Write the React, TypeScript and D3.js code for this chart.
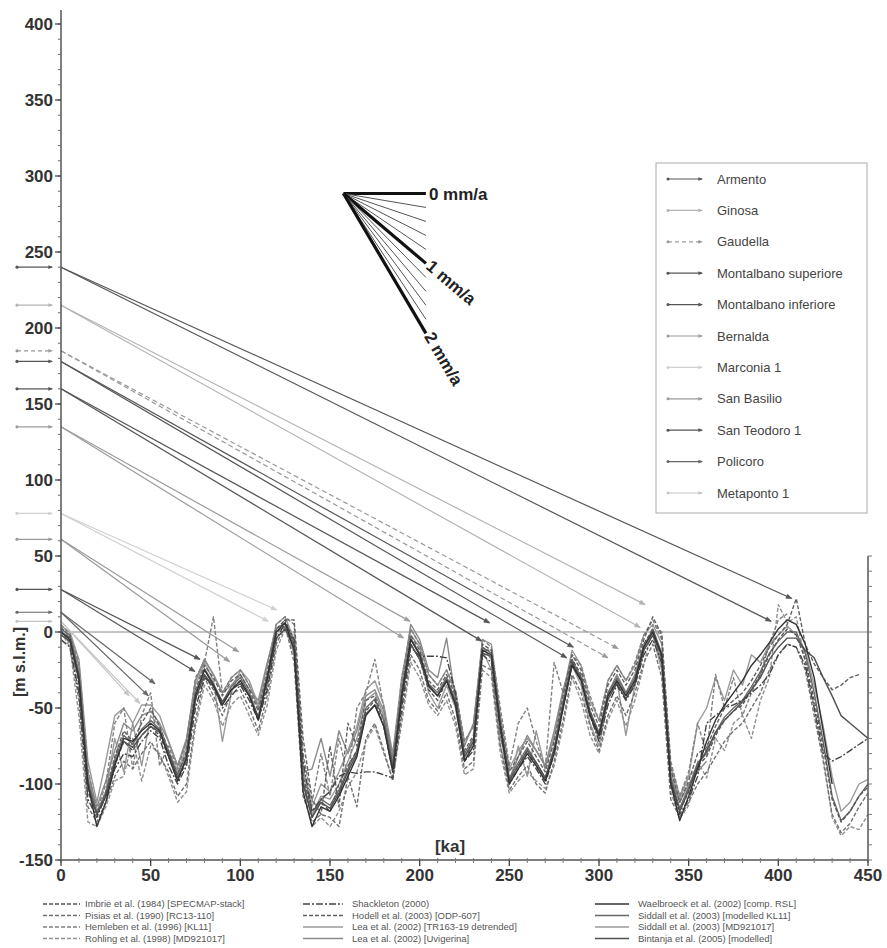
import React from 'react';
import * as d3 from 'd3';

// age grid (ka) shared by all sea-level curves
const AGES = [
  0, 5, 10, 15, 20, 25, 30, 35, 40, 45,
  50, 55, 60, 65, 70, 75, 80, 85, 90, 95,
  100, 105, 110, 115, 120, 125, 130, 135, 140, 145,
  150, 155, 160, 165, 170, 175, 180, 185, 190, 195,
  200, 205, 210, 215, 220, 225, 230, 235, 240, 245,
  250, 255, 260, 265, 270, 275, 280, 285, 290, 295,
  300, 305, 310, 315, 320, 325, 330, 335, 340, 345,
  350, 355, 360, 365, 370, 375, 380, 385, 390, 395,
  400, 405, 410, 415, 420, 425, 430, 435, 440, 445,
  450,
];

const N = null;

const IMBRIE = [
  0, -4, -35, -105, -120, -108, -88, -72, -78, -68,
  -62, -68, -82, -98, -85, -45, -28, -38, -48, -38,
  -32, -42, -58, -35, -2, 8, -8, -95, -118, -112,
  -118, -100, -88, -78, -52, -45, -62, -92, -45, -8,
  -18, -38, -45, -32, -48, -82, -75, -12, -12, -62,
  -98, -88, -78, -88, -98, -78, -48, -18, -28, -52,
  -68, -42, -32, -42, -32, -8, 2, -18, -100, -118,
  -105, -88, -82, -68, -58, -52, -48, -38, -28, -15,
  -5, 2, -2, -18, -45, -75, -110, -125, -118, -108,
  -102,
];
const PISIAS = [
  2, -8, -45, -115, -125, -112, -95, -85, -90, -80,
  -72, -82, -92, -108, -100, -58, -30, -42, -55, -40,
  -38, -50, -65, -42, -8, 4, -20, -108, -125, -120,
  -122, -128, -95, -115, -70, -60, -78, -98, -55, -15,
  -25, -45, -52, -40, -58, -90, -85, -22, -25, -75,
  -104, -95, -88, -100, -106, -85, -58, -28, -40, -62,
  -78, -55, -42, -55, -40, -20, -8, -30, -110, -122,
  -112, -100, -92, -82, -72, -65, -60, -50, -40, -25,
  -15, -8, -10, -25, -55, -85, -120, -132, -126, -115,
  -106,
];
const HEMLEBEN = [
  5, -2, -20, -90, -118, -100, -60, -50, -90, -55,
  -40, -88, -75, -90, -72, -30, -20, 10, -40, -30,
  -25, -35, -50, -25, 5, 10, 5, -80, -112, -80,
  -108, -70, -95, -50, -40, -18, -50, -85, -30, 2,
  -8, -28, -35, -25, -38, -72, -62, -5, -10, -50,
  -88, -60, -50, -72, -90, -20, -40, -15, -22, -42,
  -58, -32, -22, -32, -20, -2, 8, -5, -85, -108,
  -92, -60, -80, -28, -50, -30, -55, -40, -28, -8,
  8, 12, N, N, N, N, N, N, N, N,
  N,
];
const ROHLING = [
  0, -10, -55, -125, -128, -115, -98, -95, -70, -98,
  -75, -80, -95, -112, -105, -62, -35, -45, -62, -48,
  -42, -55, -68, -48, -12, 2, 0, -100, -128, -122,
  -128, -118, -102, -92, -72, -62, -80, -96, -60, -20,
  -30, -48, -55, -45, -62, -94, -90, -25, -30, -80,
  -106, -98, -92, -98, -103, -88, -62, -30, -45, -68,
  -80, -58, -45, -62, -45, -22, 5, 0, -105, -123,
  -114, -85, -96, -70, -78, -60, -55, -70, -45, -30,
  18, 6, 10, -20, -50, -82, -122, -134, -128, -130,
  -120,
];
const SHACKLETON = [
  -5, -10, -40, -110, -122, -108, -90, -80, -82, -72,
  -65, -70, -88, -100, -88, -50, -30, -35, -50, -42,
  -35, -45, -58, -38, -5, 6, -5, -85, -118, -110,
  -105, -95, -92, -93, -92, -92, -94, -96, -50, -10,
  -16, -16, -16, -17, -40, -85, -78, -15, -20, -65,
  -100, -90, -82, -90, -100, -80, -50, -20, -32, -55,
  -72, -48, -35, -45, -35, -15, -5, -20, -98, -120,
  -110, -95, -60, -55, -50, -48, -45, -40, -35, -28,
  -15, -8, -10, -22, -50, -80, -85, -82, -78, -74,
  -70,
];
const HODELL = [
  3, -3, -28, -98, -120, -105, -82, -65, -72, -60,
  -50, -62, -78, -94, -78, -38, -22, -30, -42, -32,
  -28, -38, -52, -28, 2, 8, 8, -70, -110, -120,
  -75, -115, -60, -75, -45, -42, -58, -88, -38, -2,
  -12, -32, -38, -28, -42, -78, -68, -8, -12, -58,
  -92, -82, -72, -82, -92, -72, -42, -15, -25, -48,
  -62, -35, -25, -35, -25, -5, 10, -2, -90, -112,
  -98, -80, -76, -62, -50, -45, -40, -32, -22, -10,
  -2, 5, 22, -8, -21, -30, -38, -35, -30, -28,
  N,
];
const LEA_TR = [
  -2, -6, -25, -95, -118, -105, -70, -92, -60, -88,
  -55, -62, -78, -92, -75, -35, -20, -32, -72, -40,
  -25, -35, -50, -28, 0, 4, -15, -90, -120, -108,
  -110, -100, -85, -70, -45, -40, -55, -85, -38, -2,
  -10, -40, -50, -35, -50, -85, -72, -12, -25, -75,
  -100, -75, -95, -65, -90, -70, -40, -22, -35, -60,
  -75, -45, -32, -68, -35, -12, -2, -25, -92, -110,
  -95, -90, N, N, N, N, N, N, N, N,
  N, N, N, N, N, N, N, N, N, N,
  N,
];
const LEA_UVI = [
  0, -3, -22, -92, -115, -98, -78, -60, -65, -55,
  -52, -60, -72, -88, -70, -32, -18, -28, -40, -35,
  -28, -38, -45, -20, 2, 6, -12, -92, -90, -70,
  -95, -65, -80, -65, -42, -38, -52, -82, -35, 5,
  -5, -25, -30, -4, -45, -75, -60, -10, -18, -68,
  -98, -82, -68, -78, -88, -65, -38, -18, -30, -55,
  -70, -40, -28, -40, -28, -8, 0, -22, -95, -112,
  -100, -92, -85, N, N, N, N, N, N, N,
  N, N, N, N, N, N, N, N, N, N,
  N,
];
const WAELBROECK = [
  0, -5, -30, -100, -128, -112, -88, -70, -72, -65,
  -60, -65, -82, -98, -82, -42, -25, -35, -48, -38,
  -32, -42, -58, -30, 0, 6, -12, -105, -128, -115,
  -118, -108, -95, -82, -55, -48, -62, -92, -42, -5,
  -15, -35, -42, -32, -48, -85, -75, -12, -15, -62,
  -100, -90, -80, -88, -98, -80, -50, -22, -32, -55,
  -68, -42, -32, -42, -32, -10, 0, -15, -100, -124,
  -108, -90, -72, -58, -48, -40, -32, -22, -15, -7,
  2, 8, 5, -8, -30, -65, -100, N, N, N,
  N,
];
const SIDDALL_KL11 = [
  2, -2, -28, -98, -120, -106, -84, -68, -74, -64,
  -58, -64, -80, -94, -80, -40, -24, -34, -46, -36,
  -30, -40, -56, -30, 2, 6, -8, -98, -122, -110,
  -114, -104, -90, -78, -50, -44, -58, -88, -40, -4,
  -14, -34, -40, -30, -45, -80, -70, -10, -14, -60,
  -96, -86, -76, -86, -96, -76, -46, -20, -30, -52,
  -66, -40, -30, -40, -30, -10, 2, -14, -96, -116,
  -102, -86, -80, -66, -56, -50, -45, -36, -26, -14,
  -6, 0, 0, -14, -40, -72, -108, -124, -118, -108,
  -100,
];
const SIDDALL_MD = [
  4, 0, -18, -85, -112, -85, -55, -50, -60, -48,
  -48, -55, -72, -88, -72, -32, -18, -28, -40, -30,
  -25, -32, -48, -22, 5, 10, -5, -90, -115, -100,
  -105, -92, -78, -62, -38, -32, -48, -80, -30, 2,
  -8, -28, -35, -25, -40, -72, -62, -5, -8, -55,
  -90, -78, -70, -78, -88, -68, -40, -12, -22, -45,
  -58, -32, -22, -32, -22, -2, 5, -8, -88, -108,
  -95, -60, -50, -30, -45, -25, -35, -15, -20, -8,
  -2, 4, -2, -12, -35, -62, -95, -118, -112, -100,
  -97,
];
const BINTANJA = [
  -2, -6, -32, -102, -120, -108, -86, -72, -76, -68,
  -62, -66, -80, -96, -84, -44, -28, -36, -46, -38,
  -34, -42, -56, -32, -4, 2, -10, -100, -122, -112,
  -116, -106, -92, -80, -54, -48, -62, -90, -44, -8,
  -18, -36, -42, -32, -46, -82, -72, -14, -16, -62,
  -98, -88, -78, -86, -96, -78, -48, -22, -30, -54,
  -68, -44, -34, -44, -34, -12, -2, -16, -98, -118,
  -104, -88, -78, -66, -58, -52, -46, -38, -30, -18,
  -10, -4, -4, -12, -17, -30, -42, -55, -60, -65,
  -70,
];

const SERIES_LABELS = [
  'Imbrie et al. (1984) [SPECMAP-stack]',
  'Pisias et al. (1990) [RC13-110]',
  'Hemleben et al. (1996) [KL11]',
  'Rohling et al. (1998) [MD921017]',
  'Shackleton (2000)',
  'Hodell et al. (2003) [ODP-607]',
  'Lea et al. (2002) [TR163-19 detrended]',
  'Lea et al. (2002) [Uvigerina]',
  'Waelbroeck et al. (2002) [comp. RSL]',
  'Siddall et al. (2003) [modelled KL11]',
  'Siddall et al. (2003) [MD921017]',
  'Bintanja et al. (2005) [modelled]',
];
const SERIES_VALUES = [
  IMBRIE, PISIAS, HEMLEBEN, ROHLING, SHACKLETON, HODELL,
  LEA_TR, LEA_UVI, WAELBROECK, SIDDALL_KL11, SIDDALL_MD, BINTANJA,
];
const SERIES_COLORS = ['#555', '#707070', '#808080', '#909090', '#444', '#606060', '#9a9a9a', '#8a8a8a', '#333', '#6a6a6a', '#9a9a9a', '#505050'];
const SERIES_DASH = ['4,2', '4,2', '4,2', '4,2', '7,2,2,2', '4,2', null, null, null, null, null, null];

// marine terraces: elevation (m) and the highstands they are correlated with
const TERRACE_NAMES = [
  'Armento', 'Ginosa', 'Gaudella', 'Montalbano superiore', 'Montalbano inferiore',
  'Bernalda', 'Marconia 1', 'San Basilio', 'San Teodoro 1', 'Policoro', 'Metaponto 1',
];
const TERRACE_ELEV = [240, 215, 185, 178, 160, 135, 78, 61, 28, 13, 7];
const TERRACE_TARGETS: [number, number][][] = [
  [[407.5, 22], [396, 7]],
  [[325.7, 18], [323, 3]],
  [[310.8, -11], [305, -17]],
  [[285.7, -10], [282, -17]],
  [[239, 6], [234.6, -6]],
  [[194.6, 7], [191, -4]],
  [[120.3, 14.5], [115.6, 7]],
  [[99, -13], [94, -19.5]],
  [[77.5, -18], [74.7, -26]],
  [[52.4, -34], [48.7, -42]],
  [[44, -47], [38, -42]],
];
const TERRACE_COLORS = ['#555', '#b4b4b4', '#999', '#555', '#555', '#9c9c9c', '#d0d0d0', '#9a9a9a', '#555', '#666', '#c4c4c4'];
const TERRACE_DASHED = [false, false, true, false, false, false, false, false, false, false, false];

// uplift-rate fan (mm/a)
const FAN_RATES = [0, 0.2, 0.4, 0.6, 0.8, 1, 1.2, 1.4, 1.6, 1.8, 2];
const FAN_LABELS = ['0 mm/a', '1 mm/a', '2 mm/a'];
const FAN_ORIGIN = [157.5, 288.5];
const FAN_SPAN = 46;

const X_TICKS = [0, 50, 100, 150, 200, 250, 300, 350, 400, 450];
const Y_TICKS = [-150, -100, -50, 0, 50, 100, 150, 200, 250, 300, 350, 400];

const FONT = 'Liberation Sans, Arial, sans-serif';

function head(x1: number, y1: number, x2: number, y2: number, s = 6) {
  const a = Math.atan2(y2 - y1, x2 - x1);
  const p1 = [x2 + s * Math.cos(a + Math.PI - 0.38), y2 + s * Math.sin(a + Math.PI - 0.38)];
  const p2 = [x2 + s * Math.cos(a + Math.PI + 0.38), y2 + s * Math.sin(a + Math.PI + 0.38)];
  return `M${p1[0]},${p1[1]}L${x2},${y2}L${p2[0]},${p2[1]}Z`;
}

export default function App() {
  const width = 887;
  const height = 948;
  const x = d3.scaleLinear().domain([0, 450]).range([61, 868]);
  const y = d3.scaleLinear().domain([-150, 400]).range([860, 24]);

  const line = d3.line<[number, number | null]>()
    .defined(d => d[1] != null)
    .x(d => x(d[0]))
    .y(d => y(d[1] as number));

  const drawOrder = [6, 10, 7, 3, 2, 1, 9, 5, 11, 0, 4, 8];

  const legendRowY = (i: number) => 179 + i * 31.4;
  const bottomCols = [[43, 80, 85], [303, 343, 352], [595, 629, 638]];
  const bottomRowY = (r: number) => 904 + r * 11.5;

  const fanEnd = (r: number) => [x(FAN_ORIGIN[0] + FAN_SPAN), y(FAN_ORIGIN[1] - FAN_SPAN * r)];

  return (
    <svg width={width} height={height} style={{ position: 'absolute', left: 0, top: 0, background: '#fff' }}
      fontFamily={FONT}>
      <rect width={width} height={height} fill="#fff" />

      {/* zero line */}
      <line x1={x(0)} x2={x(450)} y1={y(0)} y2={y(0)} stroke="#8a8a8a" strokeWidth={1} />

      {/* sea-level curves */}
      {drawOrder.map(i => (
        <path key={i}
          d={line(AGES.map((a, k) => [a, SERIES_VALUES[i][k]] as [number, number | null])) || ''}
          fill="none" stroke={SERIES_COLORS[i]} strokeWidth={1.4}
          strokeDasharray={SERIES_DASH[i] || undefined} strokeLinejoin="round" />
      ))}

      {/* terrace correlation arrows */}
      {TERRACE_NAMES.map((name, i) => (
        <g key={name}>
          {TERRACE_TARGETS[i].map(([ka, m], j) => {
            const x1 = x(0), y1 = y(TERRACE_ELEV[i]);
            const x2 = x(ka), y2 = y(m);
            return (
              <g key={j}>
                <line x1={x1} y1={y1} x2={x2} y2={y2} stroke={TERRACE_COLORS[i]} strokeWidth={1.2}
                  strokeDasharray={TERRACE_DASHED[i] ? '5,3' : undefined} />
                <path d={head(x1, y1, x2, y2)} fill={TERRACE_COLORS[i]} stroke={TERRACE_COLORS[i]} strokeWidth={0.6} />
              </g>
            );
          })}
          {/* small arrow at left of the y axis */}
          <circle cx={17} cy={y(TERRACE_ELEV[i])} r={1.6} fill={TERRACE_COLORS[i]} />
          <line x1={17} x2={52} y1={y(TERRACE_ELEV[i])} y2={y(TERRACE_ELEV[i])} stroke={TERRACE_COLORS[i]}
            strokeWidth={1.2} strokeDasharray={TERRACE_DASHED[i] ? '4,3' : undefined} />
          <path d={head(17, y(TERRACE_ELEV[i]), 53, y(TERRACE_ELEV[i]), 5)} fill={TERRACE_COLORS[i]} />
        </g>
      ))}

      {/* axes */}
      <line x1={x(0)} x2={x(0)} y1={10} y2={y(-150)} stroke="#555" strokeWidth={1.5} />
      <line x1={x(0)} x2={x(450)} y1={y(-150)} y2={y(-150)} stroke="#555" strokeWidth={1.5} />
      <line x1={x(450)} x2={x(450)} y1={y(50)} y2={y(-150)} stroke="#555" strokeWidth={1.5} />
      {y.ticks(55).map(t => (
        <line key={'ym' + t} x1={x(0) - 3} x2={x(0)} y1={y(t)} y2={y(t)} stroke="#666" />
      ))}
      {y.ticks(55).filter(t => t <= 50).map(t => (
        <line key={'yr' + t} x1={x(450)} x2={x(450) + 4} y1={y(t)} y2={y(t)} stroke="#777" />
      ))}
      {x.ticks(45).map(t => (
        <line key={'xm' + t} x1={x(t)} x2={x(t)} y1={y(-150) - 2} y2={y(-150) + 3} stroke="#777" />
      ))}
      {Y_TICKS.map(t => (
        <g key={'y' + t}>
          <line x1={x(0) - 6} x2={x(0)} y1={y(t)} y2={y(t)} stroke="#444" strokeWidth={1.3} />
          <text x={53} y={y(t)} dy="0.36em" textAnchor="end" fontSize={17} fontWeight="bold" fill="#333">{t}</text>
        </g>
      ))}
      {X_TICKS.map(t => (
        <g key={'x' + t}>
          <line x1={x(t)} x2={x(t)} y1={y(-150)} y2={y(-150) + 6} stroke="#444" strokeWidth={1.3} />
          <text x={x(t)} y={881} textAnchor="middle" fontSize={17} fontWeight="bold" fill="#333">{t}</text>
        </g>
      ))}
      <text x={450} y={852} textAnchor="middle" fontSize={17} fontWeight="bold" fill="#333">[ka]</text>
      <text transform={`translate(25,662) rotate(-90)`} textAnchor="middle" fontSize={16} fontWeight="bold" fill="#333">[m s.l.m.]</text>

      {/* uplift fan */}
      {FAN_RATES.map(r => {
        const [ex, ey] = fanEnd(r);
        const thick = r === 0 || r === 1 || r === 2;
        return (
          <line key={'f' + r} x1={x(FAN_ORIGIN[0])} y1={y(FAN_ORIGIN[1])} x2={ex} y2={ey}
            stroke={thick ? '#111' : '#555'} strokeWidth={thick ? 3.2 : 1} />
        );
      })}
      {[0, 1, 2].map((r, i) => {
        const [ex, ey] = fanEnd(r);
        const ang = Math.atan2(ey - y(FAN_ORIGIN[1]), ex - x(FAN_ORIGIN[0])) * 180 / Math.PI;
        return (
          <text key={'fl' + r} transform={`translate(${ex + 3},${ey}) rotate(${ang})`} dy="0.36em"
            fontSize={17} fontWeight="bold" fill="#222">{FAN_LABELS[i]}</text>
        );
      })}

      {/* terrace legend */}
      <rect x={656} y={163} width={211} height={350} fill="#fff" stroke="#aaa" strokeWidth={1} />
      {TERRACE_NAMES.map((name, i) => (
        <g key={'tl' + name}>
          <circle cx={668} cy={legendRowY(i)} r={1.5} fill={TERRACE_COLORS[i]} />
          <line x1={668} x2={702} y1={legendRowY(i)} y2={legendRowY(i)} stroke={TERRACE_COLORS[i]} strokeWidth={1.2}
            strokeDasharray={TERRACE_DASHED[i] ? '4,3' : undefined} />
          <path d={head(668, legendRowY(i), 703, legendRowY(i), 5)} fill={TERRACE_COLORS[i]} />
          <text x={717} y={legendRowY(i)} dy="0.36em" fontSize={13} fill="#444">{name}</text>
        </g>
      ))}

      {/* series legend */}
      {SERIES_LABELS.map((label, i) => {
        const col = bottomCols[Math.floor(i / 4)];
        const yy = bottomRowY(i % 4);
        return (
          <g key={'sl' + i}>
            <line x1={col[0]} x2={col[1]} y1={yy} y2={yy} stroke={SERIES_COLORS[i]} strokeWidth={1.5}
              strokeDasharray={SERIES_DASH[i] || undefined} />
            <text x={col[2]} y={yy} dy="0.35em" fontSize={9.5} fill="#555">{label}</text>
          </g>
        );
      })}
    </svg>
  );
}
